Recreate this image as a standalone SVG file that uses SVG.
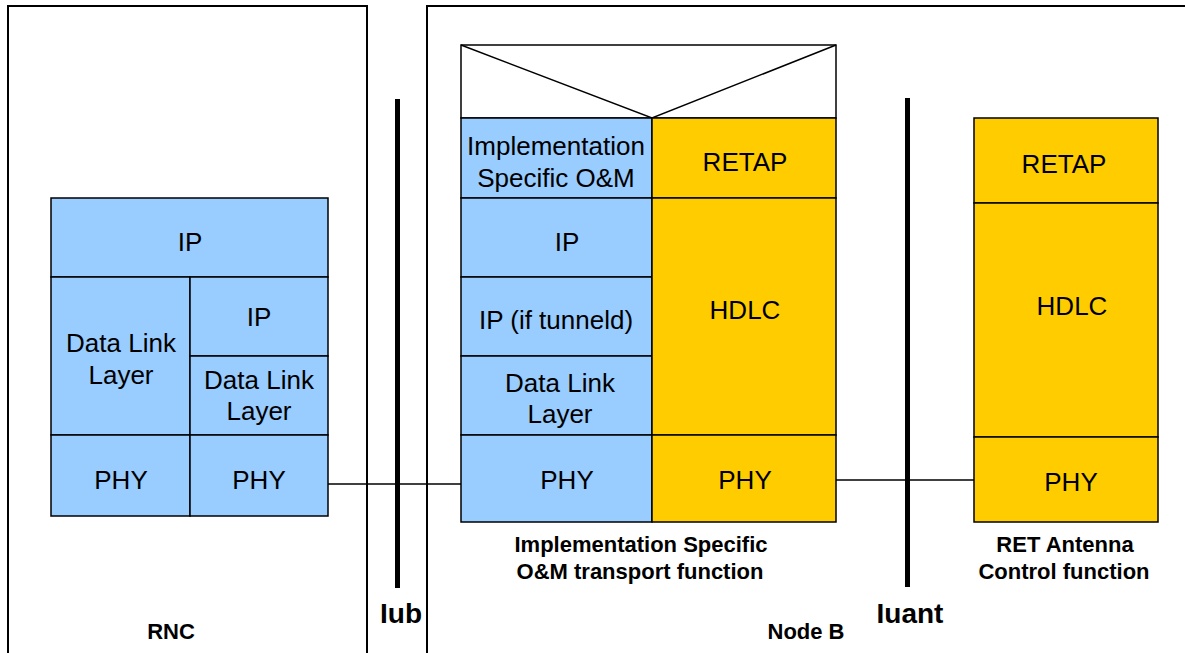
<svg xmlns="http://www.w3.org/2000/svg" width="1185" height="653" viewBox="0 0 1185 653">
<style>
.frame{fill:none;stroke:#000;stroke-width:2}
.b{fill:#99CCFF;stroke:#000;stroke-width:1.5}
.y{fill:#FFCC00;stroke:#000;stroke-width:1.5}
.w{fill:#fff;stroke:#000;stroke-width:1.5}
.bar{fill:#000}
.t{font-family:"Liberation Sans",Arial,sans-serif;font-size:26px;text-anchor:middle;fill:#000}
.lb{font-family:"Liberation Sans",Arial,sans-serif;font-size:22px;font-weight:bold;text-anchor:middle;fill:#000}
.if{font-family:"Liberation Sans",Arial,sans-serif;font-size:28px;font-weight:bold;text-anchor:middle;fill:#000}
.c{fill:none;stroke:#000;stroke-width:1.5}
</style>
<rect width="1185" height="653" fill="#fff"/>
<g id="rnc">
<rect class="frame" x="8" y="6" width="359" height="660"/>
<text class="lb" x="171" y="639">RNC</text>
</g>
<g id="nodeb">
<rect class="frame" x="427" y="6" width="770" height="660"/>
<text class="lb" x="806" y="639">Node B</text>
</g>
<g id="iub">
<rect class="bar" x="395" y="99" width="5" height="489"/>
<text class="if" x="401" y="623">Iub</text>
</g>
<g id="iuant">
<rect class="bar" x="905" y="98" width="5" height="489"/>
<text class="if" x="910" y="623">Iuant</text>
</g>
<g id="rnc-stack">
<rect class="b" x="51" y="198" width="277" height="79"/>
<text class="t" x="190" y="251">IP</text>
<rect class="b" x="51" y="277" width="139" height="158"/>
<text class="t" x="121" y="352">Data Link</text>
<text class="t" x="121" y="384">Layer</text>
<rect class="b" x="190" y="277" width="138" height="79"/>
<text class="t" x="259" y="326">IP</text>
<rect class="b" x="190" y="356" width="138" height="79"/>
<text class="t" x="259" y="389">Data Link</text>
<text class="t" x="259" y="420">Layer</text>
<rect class="b" x="51" y="435" width="139" height="81"/>
<text class="t" x="121" y="489">PHY</text>
<rect class="b" x="190" y="435" width="138" height="81"/>
<text class="t" x="259" y="489">PHY</text>
</g>
<g id="nodeb-stack">
<rect class="w" x="461" y="45" width="375" height="73"/>
<path class="c" d="M461 45 L652 118 L836 45"/>
<rect class="b" x="461" y="118" width="191" height="80"/>
<text class="t" x="556" y="155">Implementation</text>
<text class="t" x="556" y="187">Specific O&amp;M</text>
<rect class="y" x="652" y="118" width="184" height="80"/>
<text class="t" x="745" y="171">RETAP</text>
<rect class="b" x="461" y="198" width="191" height="79"/>
<text class="t" x="567" y="251">IP</text>
<rect class="b" x="461" y="277" width="191" height="79"/>
<text class="t" x="556" y="329">IP (if tunneld)</text>
<rect class="b" x="461" y="356" width="191" height="79"/>
<text class="t" x="560" y="392">Data Link</text>
<text class="t" x="560" y="423">Layer</text>
<rect class="y" x="652" y="198" width="184" height="237"/>
<text class="t" x="745" y="319">HDLC</text>
<rect class="b" x="461" y="435" width="191" height="87"/>
<text class="t" x="567" y="489">PHY</text>
<rect class="y" x="652" y="435" width="184" height="87"/>
<text class="t" x="745" y="489">PHY</text>
<text class="lb" x="641" y="552">Implementation Specific</text>
<text class="lb" x="640" y="579">O&amp;M transport function</text>
</g>
<g id="ret-stack">
<rect class="y" x="974" y="118" width="184" height="85"/>
<text class="t" x="1064" y="173">RETAP</text>
<rect class="y" x="974" y="203" width="184" height="234"/>
<text class="t" x="1072" y="315">HDLC</text>
<rect class="y" x="974" y="437" width="184" height="85"/>
<text class="t" x="1071" y="491">PHY</text>
<text class="lb" x="1065" y="552">RET Antenna</text>
<text class="lb" x="1064" y="579">Control function</text>
</g>
<g id="connectors">
<line class="c" x1="328" y1="484" x2="461" y2="484"/>
<line class="c" x1="836" y1="480" x2="974" y2="480"/>
</g>
</svg>
